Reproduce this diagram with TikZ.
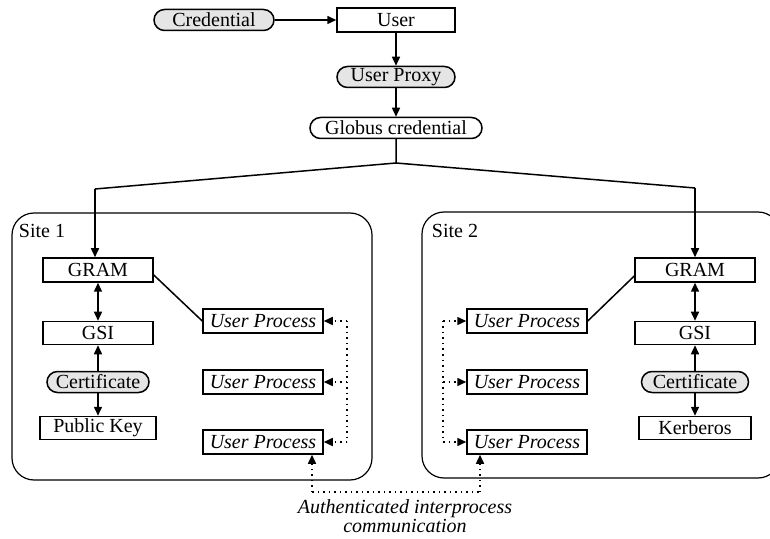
\documentclass[tikz,border=0pt]{standalone}
\usepackage{fontspec}
\setmainfont{Liberation Serif}
\usetikzlibrary{arrows.meta}

\begin{document}
\begin{tikzpicture}[x=0.5pt,y=-0.5pt,line width=0.75pt,
		font=\fontsize{10}{12}\selectfont,
		>={Triangle[length=4.5pt,width=4pt]},
		box/.style={draw,rectangle,inner sep=0pt,minimum height=11.5pt},
		pill/.style={draw,rounded corners=5.25pt,inner sep=0pt,minimum height=10.5pt},
		shaded/.style={pill,fill=gray!20},
		proc/.style={box,minimum width=60pt,minimum height=12pt,font=\fontsize{10}{12}\selectfont\itshape},
		site/.style={draw,line width=0.6pt,rounded corners=11pt,inner sep=0pt},
		dots/.style={dotted,line width=0.75pt}]
	\useasboundingbox (0,0) rectangle (770,539);
	\clip (0,0) rectangle (770,539);
	% Sites
	\node[site,minimum width=180pt,minimum height=133.5pt] (siteA) at (192,346.5) {};
	\node[site,minimum width=179pt,minimum height=133pt] (siteB) at (601,345) {};
	\node (siteAlbl) at (42,231) {Site 1};
	\node (siteBlbl) at (455,231) {Site 2};
	% Top chain
	\node[shaded,minimum width=60pt] (cred) at (214,20) {Credential};
	\node[box,minimum width=59pt,minimum height=12pt] (user) at (396,20) {User};
	\node[shaded,minimum width=59pt] (proxy) at (396,77) {User Proxy};
	\node[pill,minimum width=86pt] (globus) at (396,128) {Globus credential};
	\draw[->] (cred) -- (user);
	\draw[->] (user) -- (proxy);
	\draw[->] (proxy) -- (globus);
	% Split to the two sites
	\coordinate (split) at (396,163);
	\coordinate (lbend) at (95,189);
	\coordinate (rbend) at (695,188);
	% Site 1 column
	\node[box,minimum width=55pt,minimum height=12pt] (gramA) at (98,270) {GRAM};
	\node[box,minimum width=55pt] (gsiA) at (98,333) {GSI};
	\node[shaded,minimum width=51pt] (certA) at (98,382) {Certificate};
	\node[box,minimum width=58pt] (keyA) at (98,428) {Public Key};
	% Site 2 column
	\node[box,minimum width=60pt,minimum height=12pt] (gramB) at (695,270) {GRAM};
	\node[box,minimum width=60pt] (gsiB) at (695,333) {GSI};
	\node[shaded,minimum width=53.5pt] (certB) at (695,382) {Certificate};
	\node[box,minimum width=56pt] (keyB) at (695,428) {Kerberos};
	\draw (globus.south) -- (split) -- (lbend);
	\draw (split) -- (rbend);
	\draw[->] (lbend) -- (lbend |- gramA.north);
	\draw[->] (rbend) -- (rbend |- gramB.north);
	\draw[<->] (gramA) -- (gsiA);
	\draw[->] (certA) -- (gsiA);
	\draw[->] (certA) -- (keyA);
	\draw[<->] (gramB) -- (gsiB);
	\draw[->] (certB) -- (gsiB);
	\draw[->] (certB) -- (keyB);
	% User processes
	\foreach \i/\y in {1/321,2/382,3/442}{
		\node[proc] (upA\i) at (263,\y) {User Process};
		\node[proc] (upB\i) at (527,\y) {User Process};}
	\draw ([yshift=-2.5pt]gramA.east) -- (upA1.west);
	\draw ([yshift=-3pt]gramB.west) -- (upB1.east);
	% Interprocess links
	\coordinate (busA) at (347,0);
	\coordinate (busB) at (443,0);
	\foreach \i in {1,2,3}{
		\draw[dots,->] (busA |- upA\i) -- (upA\i.east);
		\draw[dots,->] (busB |- upB\i) -- (upB\i.west);}
	\draw[dots] (busA |- upA1) -- (busA |- upA3);
	\draw[dots] (busB |- upB1) -- (busB |- upB3);
	\coordinate (botA) at (312,492);
	\coordinate (botB) at (480,492);
	\draw[dots,->] (botA) -- (botA |- upA3.south);
	\draw[dots,->] (botB) -- (botB |- upB3.south);
	\draw[dots] (botA) -- (botB);
	\node[align=center,font=\fontsize{10}{9.5}\selectfont\itshape] (ipc) at (405,516) {Authenticated interprocess\\communication};
\end{tikzpicture}
\end{document}
